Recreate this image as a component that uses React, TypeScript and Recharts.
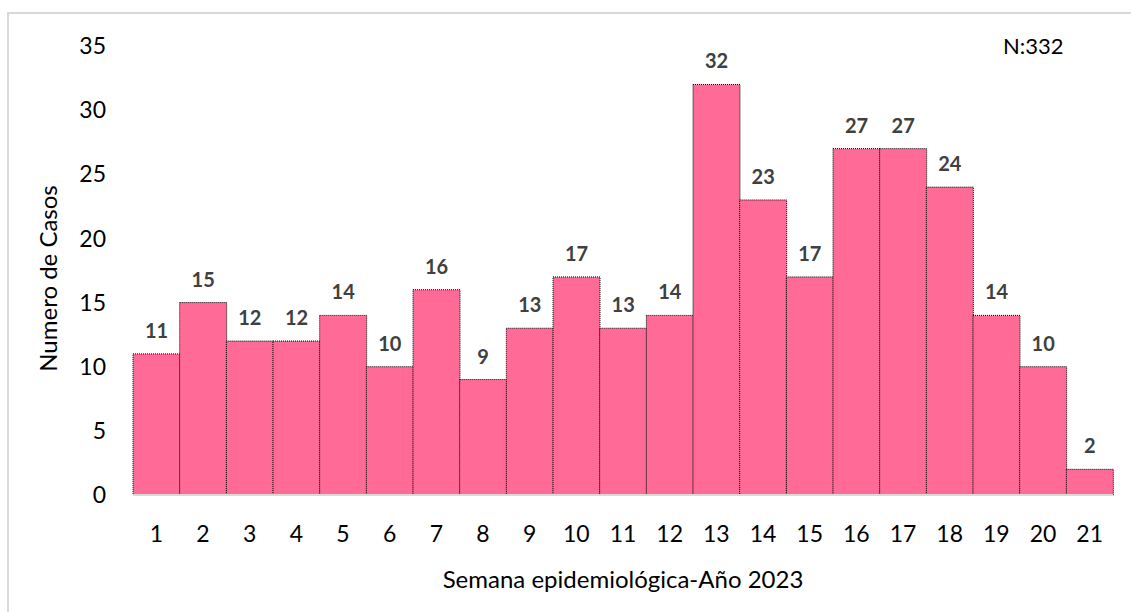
import { BarChart, Bar, XAxis, YAxis, LabelList, Label } from 'recharts';

const semanas = ['1','2','3','4','5','6','7','8','9','10','11','12','13','14','15','16','17','18','19','20','21'];
const casos = [11, 15, 12, 12, 14, 10, 16, 9, 13, 17, 13, 14, 32, 23, 17, 27, 27, 24, 14, 10, 2];
const yTicks = [0, 5, 10, 15, 20, 25, 30, 35];

const data = semanas.map((s, i) => ({ semana: s, casos: casos[i] }));

const font = 'Lato, "Open Sans", sans-serif';

export default function App() {
  return (
    <div style={{ position: 'absolute', left: 0, top: 0, width: 1131, height: 612, background: '#fff', fontFamily: font }}>
      <div style={{ position: 'absolute', left: 7, top: 12, width: 1130, height: 610, border: '2px solid #d9d9d9', boxSizing: 'border-box' }} />
      <div style={{ position: 'absolute', left: 1003, top: 33, fontSize: 22, lineHeight: '26px', color: '#000' }}>N:332</div>
      <BarChart
        width={1131}
        height={612}
        data={data}
        margin={{ top: 46, right: 18, left: 0, bottom: 0 }}
        barCategoryGap={0}
        style={{ position: 'absolute', left: 0, top: 0 }}
      >
        <XAxis
          dataKey="semana"
          height={117}
          tickLine={false}
          tickSize={0}
          tickMargin={31}
          axisLine={{ stroke: '#d9d9d9', strokeWidth: 2 }}
          tick={{ fill: '#000', fontSize: 23, fontFamily: font }}
          interval={0}
        >
          <Label value="Semana epidemiológica-Año 2023" position="insideBottom" offset={24} style={{ fill: '#000', fontSize: 24, fontFamily: font }} />
        </XAxis>
        <YAxis
          width={133}
          domain={[0, 35]}
          ticks={yTicks}
          tickLine={false}
          axisLine={false}
          tickSize={0}
          tickMargin={27}
          tick={{ fill: '#000', fontSize: 23, fontFamily: font }}
        >
          <Label value="Numero de Casos" angle={-90} position="insideLeft" offset={48} dy={8} style={{ fill: '#000', fontSize: 24, fontFamily: font, textAnchor: 'middle' }} />
        </YAxis>
        <Bar dataKey="casos" fill="#ff6a96" stroke="#000" strokeWidth={1} strokeDasharray="1 1" isAnimationActive={false}>
          <LabelList dataKey="casos" position="top" offset={16} style={{ fill: '#404040', fontSize: 20, fontWeight: 'bold', fontFamily: font }} />
        </Bar>
      </BarChart>
    </div>
  );
}
